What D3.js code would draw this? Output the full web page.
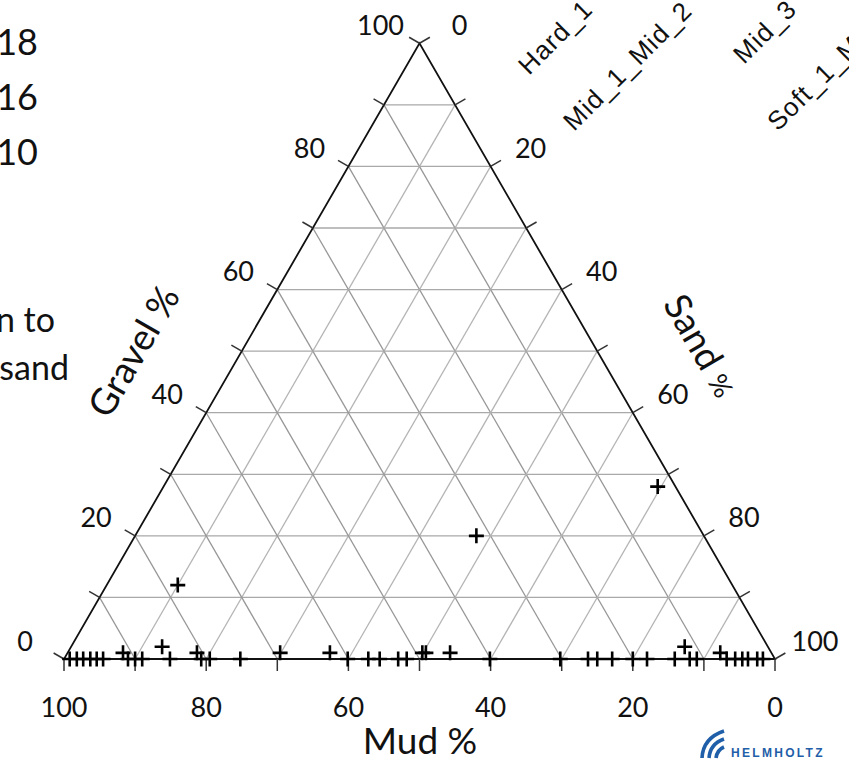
<!DOCTYPE html>
<html>
<head>
<meta charset="utf-8">
<script src="https://cdn.jsdelivr.net/npm/d3@7/dist/d3.min.js"></script>
<style>
  html, body { margin: 0; padding: 0; background: #fff; overflow: hidden; }
  svg { display: block; }
</style>
</head>
<body>
<div id="graph"></div>
<script>
// sample composition, percent
var mudPct    = [99.2, 98.2, 97.3, 96.3, 95.4, 94.5, 91.0, 90.0, 89.0, 85.1, 80.7, 79.5, 75.2,
                 60.1, 57.2, 55.6, 53.0, 51.8, 40.1, 30.2, 26.3, 25.0, 22.9, 20.0, 18.0, 14.1,
                 12.0, 11.0, 6.8, 5.6, 4.6, 3.8, 2.5, 1.7,
                 91.2, 80.8, 69.1, 62.1, 49.1, 48.6, 45.2, 7.2, 85.2, 11.7,
                 78.0, 32.0, 2.5];
var gravelPct = [0, 0, 0, 0, 0, 0, 0, 0, 0, 0, 0, 0, 0,
                 0, 0, 0, 0, 0, 0, 0, 0, 0, 0, 0, 0, 0,
                 0, 0, 0, 0, 0, 0, 0, 0,
                 1, 1, 1, 1, 1, 1, 1, 1, 2, 2,
                 12, 20, 28];
var sandPct   = [0.8, 1.8, 2.7, 3.7, 4.6, 5.5, 9.0, 10.0, 11.0, 14.9, 19.3, 20.5, 24.8,
                 39.9, 42.8, 44.4, 47.0, 48.2, 59.9, 69.8, 73.7, 75.0, 77.1, 80.0, 82.0, 85.9,
                 88.0, 89.0, 93.2, 94.4, 95.4, 96.2, 97.5, 98.3,
                 7.8, 18.2, 29.9, 36.9, 49.9, 50.4, 53.8, 91.8, 12.8, 86.3,
                 10.0, 48.0, 69.5];

var gridSteps  = [10, 20, 30, 40, 50, 60, 70, 80, 90];
var tickSteps  = [0, 10, 20, 30, 40, 50, 60, 70, 80, 90, 100];
var labelSteps = [0, 20, 40, 60, 80, 100];
var legendNames = ["Hard_1", "Mid_1_Mid_2", "Mid_3", "Soft_1_Mid_2"];
var slideNumbers = ["18", "16", "10"];
var slideWords = ["n to", "sand"];

var width = 849, height = 760;
var x0 = 64, y0 = 659, side = 711;
var tri = side * Math.sqrt(3) / 2;

var svg = d3.select("#graph").append("svg")
  .attr("width", width).attr("height", height);

// horizontal position = sand + gravel/2, vertical = gravel
var xScale = d3.scaleLinear().domain([0, 100]).range([x0, x0 + side]);
var yScale = d3.scaleLinear().domain([0, 100]).range([y0, y0 - tri]);
function px(g, s) { return xScale(s + g / 2); }
function py(g) { return yScale(g); }

var font = "Lato, 'Open Sans', sans-serif";

// grid
var grid = svg.append("g").attr("stroke-width", 1.3).attr("fill", "none");
gridSteps.forEach(function (v) {
  // gravel constant
  grid.append("line").attr("stroke", "#a9a9a9")
    .attr("x1", px(v, 0)).attr("y1", py(v)).attr("x2", px(v, 100 - v)).attr("y2", py(v));
  // sand constant
  grid.append("line").attr("stroke", "#b4b4b4")
    .attr("x1", px(0, v)).attr("y1", py(0)).attr("x2", px(100 - v, v)).attr("y2", py(100 - v));
  // mud constant
  grid.append("line").attr("stroke", "#979797")
    .attr("x1", px(0, 100 - v)).attr("y1", py(0)).attr("x2", px(100 - v, 0)).attr("y2", py(100 - v));
});

// frame
svg.append("path")
  .attr("d", "M" + px(0, 0) + "," + py(0) + "L" + px(0, 100) + "," + py(0) + "L" + px(100, 0) + "," + py(100) + "Z")
  .attr("fill", "none").attr("stroke", "#111").attr("stroke-width", 1.8);

// ticks
var ticks = svg.append("g").attr("stroke", "#333").attr("stroke-width", 1.5);
var tl = 12, cx = Math.cos(Math.PI / 6), sy = Math.sin(Math.PI / 6);
tickSteps.forEach(function (v) {
  var bx = px(0, 100 - v), by = py(0);
  ticks.append("line").attr("x1", bx).attr("y1", by).attr("x2", bx).attr("y2", by + tl);
  var lx = px(v, 0), ly = py(v);
  ticks.append("line").attr("x1", lx).attr("y1", ly).attr("x2", lx - tl * cx).attr("y2", ly - tl * sy);
  var rx = px(100 - v, v), ry = py(100 - v);
  ticks.append("line").attr("x1", rx).attr("y1", ry).attr("x2", rx + tl * cx).attr("y2", ry - tl * sy);
});

// tick labels
var labs = svg.append("g").attr("font-family", font).attr("font-size", 27).attr("fill", "#111")
  .attr("text-anchor", "middle").attr("dominant-baseline", "central");
labelSteps.forEach(function (v) {
  labs.append("text").attr("x", px(0, 100 - v)).attr("y", py(0) + 47).text(v);
  labs.append("text").attr("x", px(v, 0) - 39).attr("y", py(v) - 19).text(v);
  labs.append("text").attr("x", px(100 - v, v) + 40).attr("y", py(100 - v) - 19).text(v);
});

// axis titles
svg.append("text").attr("x", 420).attr("y", 754).attr("text-anchor", "middle")
  .attr("font-family", font).attr("font-size", 37).attr("fill", "#111").text("Mud %");
svg.append("text").attr("transform", "translate(145,358) rotate(-60)").attr("text-anchor", "middle")
  .attr("font-family", font).attr("font-size", 37).attr("fill", "#111").text("Gravel %");
var st = svg.append("text").attr("transform", "translate(690,352) rotate(60)").attr("text-anchor", "middle")
  .attr("font-family", font).attr("font-size", 37).attr("fill", "#111");
st.append("tspan").text("Sand ");
st.append("tspan").attr("font-size", 27).text("%");

// points
var pts = mudPct.map(function (m, i) { return { mud: m, gravel: gravelPct[i], sand: sandPct[i] }; });
var arm = 7.5;
svg.append("g").attr("stroke", "#000").attr("stroke-width", 2.6)
  .selectAll("path").data(pts).enter().append("path")
  .attr("d", function (d) {
    var x = px(d.gravel, d.sand), y = py(d.gravel);
    return "M" + (x - arm) + "," + y + "H" + (x + arm) + "M" + x + "," + (y - arm) + "V" + (y + arm);
  });

// rotated legend names (cut at the top)
var legPos = [[529, 76], [574, 132], [744, 65], [778, 132]];
svg.append("g").attr("font-family", "'Liberation Sans', Arial, sans-serif").attr("font-size", 26)
  .attr("letter-spacing", 1.2).attr("fill", "#111")
  .selectAll("text").data(legendNames).enter().append("text")
  .attr("transform", function (d, i) { return "translate(" + legPos[i][0] + "," + legPos[i][1] + ") rotate(-45)"; })
  .text(function (d) { return d; });

// slide text left
svg.append("g").attr("font-family", font).attr("font-size", 36).attr("fill", "#111").attr("text-anchor", "end")
  .selectAll("text").data(slideNumbers).enter().append("text")
  .attr("x", 38).attr("y", function (d, i) { return 55 + i * 55; }).text(function (d) { return d; });
svg.append("g").attr("font-family", font).attr("font-size", 34).attr("fill", "#111").attr("text-anchor", "end")
  .selectAll("text").data(slideWords).enter().append("text")
  .attr("x", function (d, i) { return i === 0 ? 55 : 69; }).attr("y", function (d, i) { return 332 + i * 48; })
  .text(function (d) { return d; });

// helmholtz logo
var logo = svg.append("g").attr("fill", "none").attr("stroke", "#1f5ea8").attr("stroke-width", 3.6).attr("stroke-linecap", "butt");
logo.append("path").attr("d", "M702,758 Q703,738 724,731");
logo.append("path").attr("d", "M709,758 Q710,744 724,739");
logo.append("path").attr("d", "M716,758 Q717,750 724,747");
svg.append("text").attr("x", 731).attr("y", 757).attr("font-family", "'Liberation Sans', Arial, sans-serif")
  .attr("font-weight", "bold").attr("font-size", 12).attr("letter-spacing", 2.3).attr("fill", "#1f5ea8").text("HELMHOLTZ");
</script>
</body>
</html>
